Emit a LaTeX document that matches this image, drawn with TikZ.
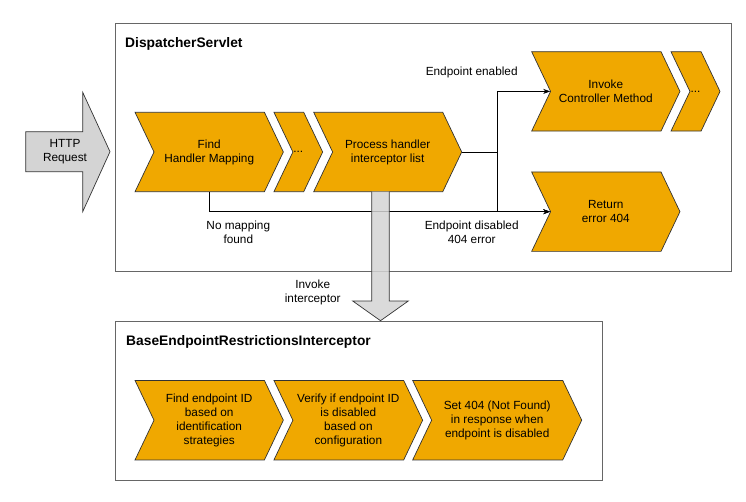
\documentclass[tikz,border=0pt]{standalone}
\usepackage{fontspec}
\setmainfont{Liberation Sans}
\usetikzlibrary{arrows.meta}
\usetikzlibrary{shapes.symbols}

\definecolor{stepfill}{HTML}{F0A800}
\definecolor{stepline}{HTML}{333333}
\definecolor{flowgray}{HTML}{D4D4D4}
\definecolor{framegray}{HTML}{666666}

\tikzset{
  stepbox/.style={signal, signal from=west, signal to=east,
    signal pointer angle=129, fill=stepfill, draw=stepline, line width=0.7pt,
    minimum height=79.4pt, inner sep=0pt, align=center,
    font=\fontsize{11.8}{14}\selectfont},
  flowarrow/.style={fill=flowgray, fill opacity=0.85, draw=stepline, line width=0.7pt},
  frame/.style={draw=framegray, line width=0.8pt},
  title/.style={anchor=west, inner sep=0pt, font=\fontsize{13.8}{16}\selectfont\bfseries},
  note/.style={align=center, font=\fontsize{11.8}{14}\selectfont}
}

\begin{document}
\begin{tikzpicture}[x=1pt, y=-1pt]
    \useasboundingbox (0,0) rectangle (746,502);

    % the two containers
    \draw [frame] (115,23) rectangle (731,271);
    \draw [frame] (115,321) rectangle (602,480);
    \node [title] (servletTitle) at (125,44) {DispatcherServlet};
    \node [title] (interTitle) at (126,342) {BaseEndpointRestrictionsInterceptor};

    % incoming request
    \draw [flowarrow, fill opacity=1] (25.7,131.7) -- (82.7,131.7) -- (82.7,92.3) -- (110,151.7)
        -- (82.7,211.7) -- (82.7,171.7) -- (25.7,171.7) -- cycle;
    \node [note] (request) at (65,152) {HTTP\\Request};

    % Add or remove nodes here, use the tuple for location
    \begin{scope}[every node/.style={stepbox}]
    \node [minimum width=148.3pt] (find) at (209.2,152) {Find\\Handler Mapping};
    \node [minimum width=48.7pt] (dotsA) at (298.3,152) {...};
    \node [minimum width=148pt] (process) at (387.7,152) {Process handler\\interceptor list};
    \node [minimum width=148.3pt] (invoke) at (605.8,91.4) {Invoke\\Controller Method};
    \node [minimum width=49pt] (dotsB) at (695.5,91.4) {...};
    \node [minimum width=148.3pt] (ret) at (605.8,211.7) {Return\\error 404};
    \node [minimum width=148.3pt] (endpoint) at (209.2,420.2) {Find endpoint ID\\based on\\identification\\strategies};
    \node [minimum width=148.7pt] (verify) at (348.3,420.2) {Verify if endpoint ID\\is disabled\\based on\\configuration};
    \node [minimum width=169pt] (respond) at (497.2,420.2) {Set 404 (Not Found)\\in response when\\endpoint is disabled};
    \end{scope}

    % branch point
    \coordinate (split) at (497,152);

    % forward edges
    \begin{scope}[>={Stealth[black, length=7pt, width=5pt]},
              every edge/.style={draw=black, line width=0.6pt}]
    \path [-] (process.east) edge (split);
    \path [->] (split) edge [to path={|- (\tikztotarget)}] (invoke.west);
    \path [->] (split) edge [to path={|- (\tikztotarget)}] (ret.west);
    \path [->] (find.south) edge [to path={|- (\tikztotarget)}] (ret.west);
    \end{scope}

    % call into the interceptor
    \draw [flowarrow] (371.7,191.7) -- (371.7,301) -- (352.7,301) -- (380.5,320.7)
        -- (408.3,301) -- (389.3,301) -- (389.3,191.7);
    \node [note] (invokeLbl) at (312.7,292) {Invoke\\interceptor};

    % edge texts
    \node [note] (enabledLbl) at (471.7,72.7) {Endpoint enabled};
    \node [note] (disabledLbl) at (471.7,232) {Endpoint disabled\\404 error};
    \node [note] (noMapLbl) at (238.3,232.3) {No mapping\\found};

\end{tikzpicture}
\end{document}
